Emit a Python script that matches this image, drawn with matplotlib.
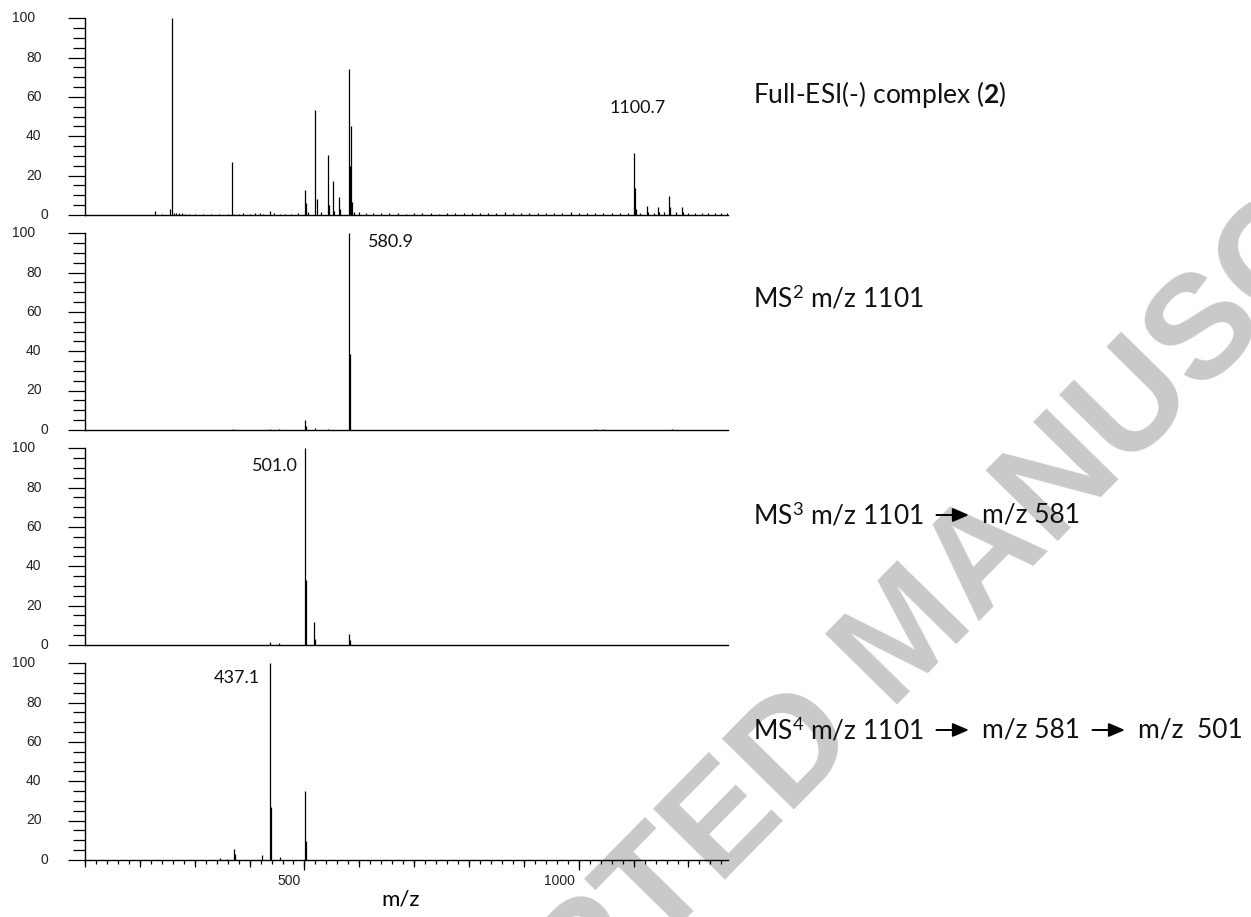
import matplotlib
matplotlib.use('Agg')
import matplotlib.pyplot as plt
import matplotlib.transforms as mtransforms
from matplotlib.ticker import MultipleLocator, FixedLocator

plt.rcParams['mathtext.fontset'] = 'custom'
plt.rcParams['mathtext.rm'] = 'Lato'
plt.rcParams['mathtext.bf'] = 'Lato:bold'
plt.rcParams['mathtext.it'] = 'Lato:italic'

# ---------------- data ----------------
full_mz = [227, 240, 255, 259.0, 262, 266, 271, 276, 283, 290, 300, 315, 330, 345, 360,
           367.4, 372, 380, 388, 400, 410, 419, 425, 438, 445, 455, 465, 475, 488,
           501.0, 503, 506, 520.0, 522, 530, 542.3, 544, 551.4, 553, 562.3, 564,
           580.9, 582.5, 584.9, 587, 591, 600, 612, 625, 640, 655, 670, 685, 700,
           715, 730, 745, 760, 775, 790, 805, 820, 835, 850, 865, 880, 895, 910,
           925, 940, 955, 970, 985, 1000, 1015, 1030, 1045, 1060, 1075, 1090,
           1100.7, 1102.3, 1105, 1112, 1125, 1127, 1138, 1145, 1147, 1156, 1165,
           1167, 1178, 1188, 1190, 1200, 1212, 1224, 1236, 1248, 1260, 1270]
full_int = [2.0, 0.5, 3.0, 100, 1.0, 0.8, 1.0, 0.7, 0.6, 0.5, 0.5, 0.4, 0.6, 0.5, 0.6,
            26.8, 0.6, 0.5, 0.7, 0.6, 0.8, 1.0, 0.6, 2.0, 0.7, 0.6, 0.5, 0.6, 0.7,
            12.7, 6.0, 1.5, 53.4, 8.0, 1.5, 30.5, 5.0, 17.0, 2.0, 9.3, 3.0,
            74.2, 25.0, 45.2, 6.3, 1.5, 1.5, 0.8, 1.0, 0.8, 0.9, 0.7, 0.6, 0.8,
            0.7, 0.9, 0.6, 0.8, 1.0, 0.7, 0.9, 0.8, 1.1, 0.9, 1.2, 0.8, 1.0, 0.7,
            0.9, 1.0, 1.1, 0.8, 1.2, 1.0, 0.9, 1.1, 0.8, 0.9, 1.0, 0.9,
            31.3, 13.5, 3.0, 1.0, 4.6, 1.5, 1.0, 4.2, 1.5, 1.2, 9.8,
            4.0, 1.2, 3.9, 1.5, 1.0, 0.9, 1.1, 1.0, 0.9, 1.0, 0.9]

ms2_mz = [370, 437, 454, 501.0, 503, 519, 543, 580.9, 582.5, 1030, 1045, 1170]
ms2_int = [0.3, 0.5, 0.4, 5.0, 2.0, 0.7, 0.5, 100, 38.5, 0.5, 0.4, 0.5]

ms3_mz = [437, 453, 501.0, 502.5, 517, 518.5, 581, 583]
ms3_int = [1.2, 1.0, 100, 33, 11.5, 3.0, 5.4, 2.5]

ms4_mz = [346, 358, 371.5, 373, 422, 437.1, 438.6, 455.5, 501, 502.5]
ms4_int = [1.0, 0.5, 5.6, 3.0, 2.2, 100, 27, 1.4, 35.2, 9.8]

spectra_mz = [full_mz, ms2_mz, ms3_mz, ms4_mz]
spectra_int = [full_int, ms2_int, ms3_int, ms4_int]

peak_labels = ["1100.7", "580.9", "501.0", "437.1"]
peak_label_mz = [1100.7, 580.9, 501.0, 437.1]
peak_label_y = [54.4, 95.8, 91.0, 92.4]

y_ticks = [0, 20, 40, 60, 80, 100]
x_ticks = [500, 1000]
x_label = "m/z"

title_full = r"Full-ESI(-) complex ($\mathbf{2}$)"
title_ms2 = [r"MS$^{2}$ m/z 1101"]
title_ms3 = [r"MS$^{3}$ m/z 1101", "m/z 581"]
title_ms4 = [r"MS$^{4}$ m/z 1101", "m/z 581", "m/z  501"]
watermark = "ACCEPTED MANUSCRIPT"

# ---------------- layout ----------------
W, H, DPI = 1251, 917, 100
fig = plt.figure(figsize=(W / DPI, H / DPI), dpi=DPI)
fig.patch.set_facecolor('white')

left_px, right_px = 85, 728
panel_top_px = [18.3, 233.3, 448.3, 663.3]
ax_h_px = 196.5
XMIN, XMAX = 100, 1272

label_font = 'Lato'
tick_font = 'Liberation Sans'

# watermark behind everything
wm = fig.text(910 / W, 1 - 638 / H, watermark, rotation=45.5, rotation_mode='anchor',
              ha='center', va='center', fontsize=106, fontweight='bold',
              family='Liberation Sans', color='#c8c9cb', zorder=-5)

label_cfg = [dict(ha='center', dx=4), dict(ha='left', dx=19),
             dict(ha='right', dx=-7), dict(ha='right', dx=-10)]

axes = []
for i in range(4):
    bottom_px = panel_top_px[i] + ax_h_px
    ax = fig.add_axes([left_px / W, 1 - bottom_px / H, (right_px - left_px) / W, ax_h_px / H])
    ax.patch.set_alpha(0)
    ax.vlines(spectra_mz[i], 0, spectra_int[i], colors='black', linewidth=0.9)
    ax.set_xlim(XMIN, XMAX)
    ax.set_ylim(0, 100)
    for s in ['top', 'right']:
        ax.spines[s].set_visible(False)
    ax.spines['left'].set_linewidth(1.0)
    ax.spines['bottom'].set_linewidth(1.0)

    # y ticks
    ax.yaxis.set_major_locator(FixedLocator(y_ticks))
    ax.yaxis.set_minor_locator(MultipleLocator(5))
    ax.tick_params(axis='y', which='major', length=12.2, width=0.9, labelleft=False, direction='out')
    ax.tick_params(axis='y', which='minor', length=8.6, width=0.9, direction='out')
    ytrans = mtransforms.blended_transform_factory(ax.transAxes, ax.transData)
    for v in y_ticks:
        s = str(v)
        off = 30 + 6.7 * len(s)
        ax.text(0, v, s, transform=ytrans + mtransforms.ScaledTranslation(-off / DPI, 0, fig.dpi_scale_trans),
                ha='right', va='center', fontsize=10, family=tick_font, color='#222222')

    # peak label
    cfg = label_cfg[i]
    ax.annotate(peak_labels[i], xy=(peak_label_mz[i], peak_label_y[i]), xycoords='data',
                xytext=(cfg['dx'] * 72 / DPI, 0), textcoords='offset points',
                ha=cfg['ha'], va='center', fontsize=13, family=label_font, color='#111111')

    if i < 3:
        ax.tick_params(axis='x', which='both', bottom=False, labelbottom=False)
    else:
        ax.xaxis.set_major_locator(FixedLocator(x_ticks))
        ax.xaxis.set_minor_locator(MultipleLocator(20))
        ax.tick_params(axis='x', which='major', length=7.2, width=0.9, labelbottom=False)
        ax.tick_params(axis='x', which='minor', length=2.9, width=0.9)
        sec = ax.secondary_xaxis('bottom')
        sec.spines['bottom'].set_visible(False)
        sec.xaxis.set_major_locator(MultipleLocator(100))
        sec.xaxis.set_minor_locator(FixedLocator([]))
        sec.tick_params(axis='x', which='major', length=5.0, width=0.9, labelbottom=False)
        xtrans = mtransforms.blended_transform_factory(ax.transData, ax.transAxes)
        for v in x_ticks:
            ax.text(v, 0, str(v), transform=xtrans + mtransforms.ScaledTranslation(-4 / DPI, -14 / DPI, fig.dpi_scale_trans),
                    ha='right', va='top', fontsize=10, family=tick_font, color='#222222')
    axes.append(ax)

fig.text(401 / W, 1 - 899 / H, x_label, ha='center', va='center', fontsize=16, family=label_font)

# ---------------- right-side titles ----------------
renderer = fig.canvas.get_renderer()
title_x_px = 753
rows = [([title_full], 95), (title_ms2, 298), (title_ms3, 515), (title_ms4, 730)]
arrow_len, gap = 38, 10
for parts, ypx in rows:
    x = title_x_px
    for k, part in enumerate(parts):
        t = fig.text(x / W, 1 - ypx / H, part, ha='left', va='center', fontsize=19, family=label_font, color='#111111')
        bb = t.get_window_extent(renderer)
        x = x + bb.width
        if k < len(parts) - 1:
            x0 = x + gap
            x1 = x0 + arrow_len
            fig.patches.append(matplotlib.patches.FancyArrowPatch(
                (x0 / W, 1 - ypx / H), (x1 / W, 1 - ypx / H), transform=fig.transFigure,
                arrowstyle='-|>,head_length=0.7,head_width=0.3', mutation_scale=14,
                color='black', linewidth=1.4))
            x = x1 + gap

fig.savefig('out.png', dpi=DPI, facecolor='white')
